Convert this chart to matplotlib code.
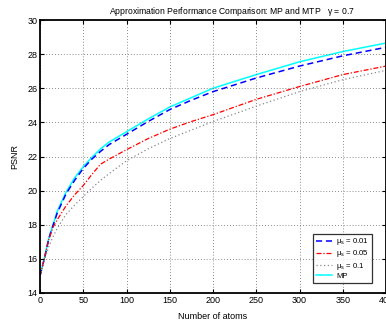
import matplotlib
matplotlib.use("Agg")
import matplotlib.pyplot as plt

atoms = [0, 5, 10, 15, 20, 30, 40, 50, 60, 70, 80, 100, 125, 150, 175, 200, 250, 300, 350, 400]
psnr_mu001 = [15.0, 16.0, 17.15, 17.95, 18.7, 19.8, 20.6, 21.3, 21.85, 22.3, 22.7, 23.3, 24.05, 24.75, 25.3, 25.8, 26.6, 27.3, 27.9, 28.4]
psnr_mu005 = [15.0, 16.0, 17.1, 17.85, 18.3, 19.1, 19.75, 20.3, 20.95, 21.55, 21.85, 22.4, 23.05, 23.6, 24.05, 24.45, 25.35, 26.1, 26.8, 27.3]
psnr_mu01 = [15.0, 15.9, 16.7, 17.3, 17.8, 18.6, 19.15, 19.65, 20.15, 20.6, 21.0, 21.75, 22.45, 23.05, 23.55, 24.05, 24.95, 25.8, 26.5, 27.05]
psnr_mp = [15.0, 16.05, 17.2, 18.0, 18.8, 19.9, 20.75, 21.4, 21.95, 22.45, 22.85, 23.45, 24.2, 24.9, 25.45, 26.0, 26.8, 27.55, 28.15, 28.65]

labels = [r'$\mu_s$ = 0.01', r'$\mu_s$ = 0.05', r'$\mu_s$ = 0.1', 'MP']
xticks = list(range(0, 401, 50))
yticks = list(range(14, 31, 2))

plt.rcParams['font.family'] = ['Liberation Sans', 'DejaVu Sans']
plt.rcParams['mathtext.fontset'] = 'custom'
plt.rcParams['mathtext.rm'] = 'Liberation Sans'
plt.rcParams['mathtext.it'] = 'Liberation Sans'

fig = plt.figure(figsize=(3.86, 3.22), dpi=100)
ax = fig.add_axes([40/386, 1-293/322, 346/386, 273/322])

ax.plot(atoms, psnr_mu001, color='#0000ff', linestyle=(0, (4, 2.5)), linewidth=1.1, label=labels[0])
ax.plot(atoms, psnr_mu005, color='#ff0000', linestyle=(0, (4, 1.5, 1, 1.5)), linewidth=0.9, label=labels[1])
ax.plot(atoms, psnr_mu01, color='#888888', linestyle=(0, (1, 2)), linewidth=0.9, label=labels[2])
ax.plot(atoms, psnr_mp, color='#00ffff', linestyle='-', linewidth=1.1, label=labels[3], zorder=1.5)

ax.set_xlim(0, 400)
ax.set_ylim(14, 30)
ax.set_xticks(xticks)
ax.set_yticks(yticks)
ax.tick_params(direction='in', top=True, right=True, labelsize=6.5, length=3, width=0.8, pad=2)
ax.grid(True, linestyle=(0, (1, 2.5)), color='#666666', linewidth=0.6)
for s in ax.spines.values():
    s.set_linewidth(1.3)

ax.set_xlabel('Number of atoms', fontsize=6.5, labelpad=5)
ax.set_ylabel('PSNR', fontsize=6.5)
ax.yaxis.set_label_coords(-0.061, 0.5)

fig.text(232/386, 1-11/322, r'Approximation Performance Comparison: MP and MTP   $\gamma$ = 0.7',
         ha='center', va='center', fontsize=6.2)

leg = ax.legend(loc='lower right', fontsize=5.6, frameon=True, fancybox=False,
                edgecolor='black', handlelength=2.0, handletextpad=0.6,
                labelspacing=0.15, borderpad=0.35, borderaxespad=0,
                bbox_to_anchor=(0.96, 0.037))
leg.get_frame().set_linewidth(0.9)

fig.savefig('out.png', dpi=100)
